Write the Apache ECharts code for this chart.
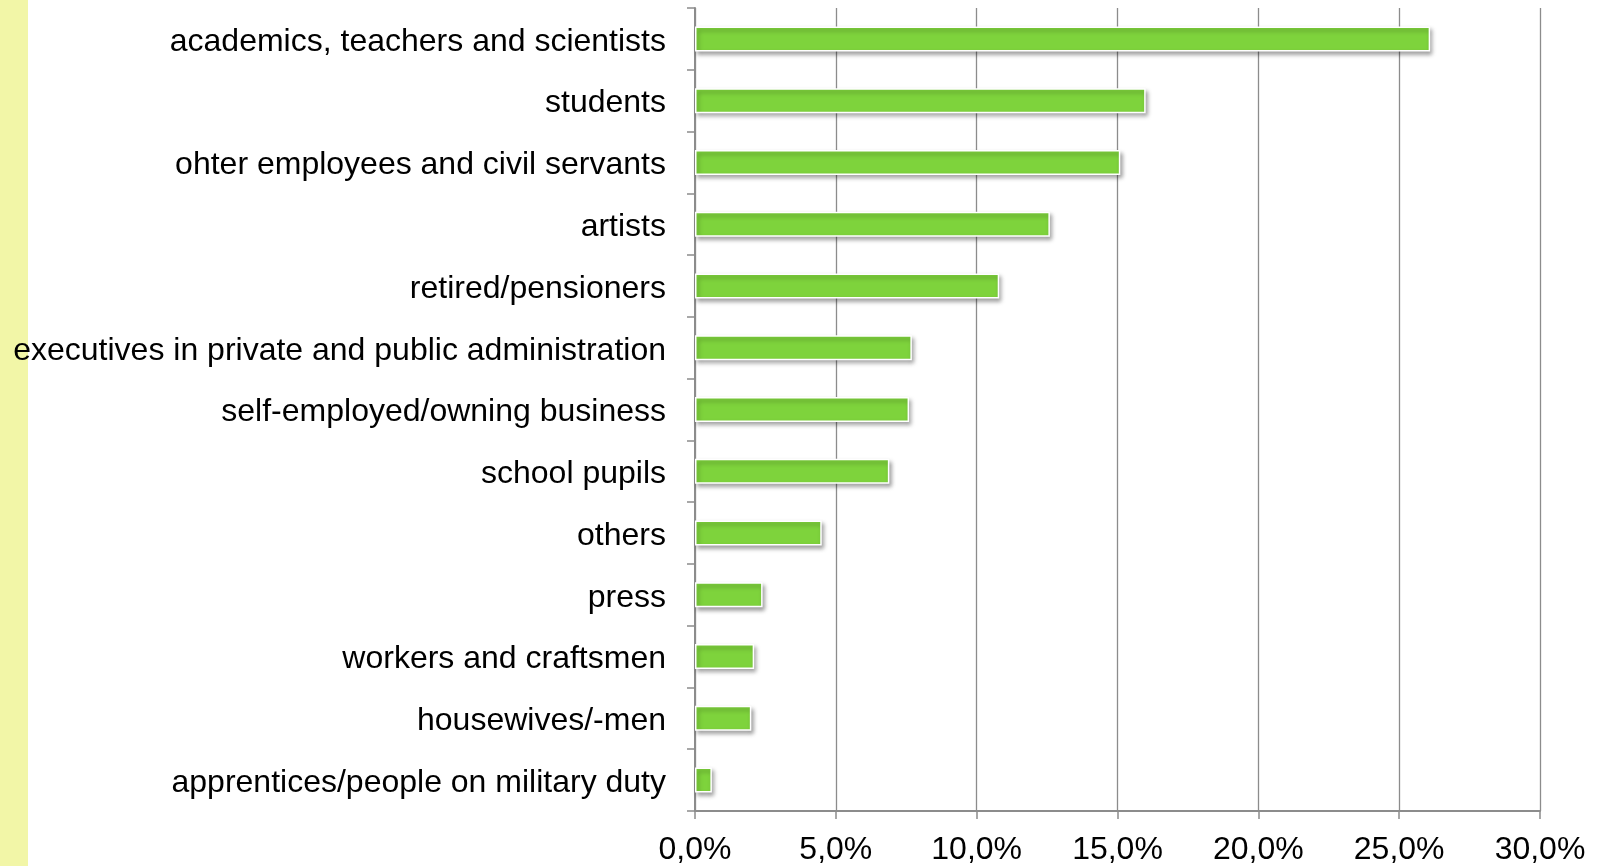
<!DOCTYPE html>
<html>
<head>
<meta charset="utf-8">
<script src="https://cdn.jsdelivr.net/npm/echarts@6/dist/echarts.min.js"></script>
<style>
  html, body { margin: 0; padding: 0; background: #ffffff; }
  #chart { width: 1607px; height: 866px; }
</style>
</head>
<body>
<div id="chart"></div>
<script>
// Occupational groups, top to bottom
const categories = [
  'academics, teachers and scientists',
  'students',
  'ohter employees and civil servants',
  'artists',
  'retired/pensioners',
  'executives in private and public administration',
  'self-employed/owning business',
  'school pupils',
  'others',
  'press',
  'workers and craftsmen',
  'housewives/-men',
  'apprentices/people on military duty'
];

// Share of respondents, percent
const shares = [26.1, 16.0, 15.1, 12.6, 10.8, 7.7, 7.6, 6.9, 4.5, 2.4, 2.1, 2.0, 0.6];

// Value axis range and step, percent
const axisMin = 0;
const axisMax = 30;
const axisStep = 5;

const FONT = '"Liberation Sans", Arial, Helvetica, sans-serif';
const GRAY = '#8c8c8c';

const chart = echarts.init(document.getElementById('chart'), null, { renderer: 'canvas' });

chart.setOption({
  backgroundColor: '#ffffff',
  animation: false,
  graphic: [{
    type: 'rect',
    z: -10,
    silent: true,
    shape: { x: 0, y: 0, width: 28, height: 866 },
    style: { fill: '#f2f6a7' }
  }],
  grid: { left: 695, right: 67, top: 8, bottom: 54, containLabel: false },
  xAxis: {
    type: 'value',
    min: axisMin,
    max: axisMax,
    interval: axisStep,
    axisLine: { show: true, lineStyle: { color: GRAY, width: 2 } },
    axisTick: { show: true, length: 8, lineStyle: { color: GRAY, width: 1.5 } },
    splitLine: { show: true, lineStyle: { color: GRAY, width: 1.3 } },
    axisLabel: {
      margin: 23,
      color: '#000',
      fontFamily: FONT,
      fontSize: 32,
      formatter: v => v.toFixed(1).replace('.', ',') + '%'
    }
  },
  yAxis: {
    type: 'category',
    data: categories,
    inverse: true,
    axisLine: { show: true, lineStyle: { color: GRAY, width: 2 } },
    axisTick: { show: true, length: 8, alignWithLabel: false, lineStyle: { color: GRAY, width: 1.5 } },
    axisLabel: {
      margin: 29,
      color: '#000',
      fontFamily: FONT,
      fontSize: 32,
      formatter: v => '{t|' + v + '}',
      rich: {
        t: {
          color: '#000',
          fontFamily: FONT,
          fontSize: 32,
          padding: [6, 0, 0, 0]
        }
      }
    }
  },
  series: [{
    type: 'bar',
    data: shares,
    barWidth: 25,
    itemStyle: {
      color: '#7ed33c',
      borderColor: '#ffffff',
      borderWidth: 1.5,
      shadowColor: 'rgba(0,0,0,0.35)',
      shadowBlur: 4,
      shadowOffsetX: 2,
      shadowOffsetY: 3
    }
  }]
});
</script>
</body>
</html>
